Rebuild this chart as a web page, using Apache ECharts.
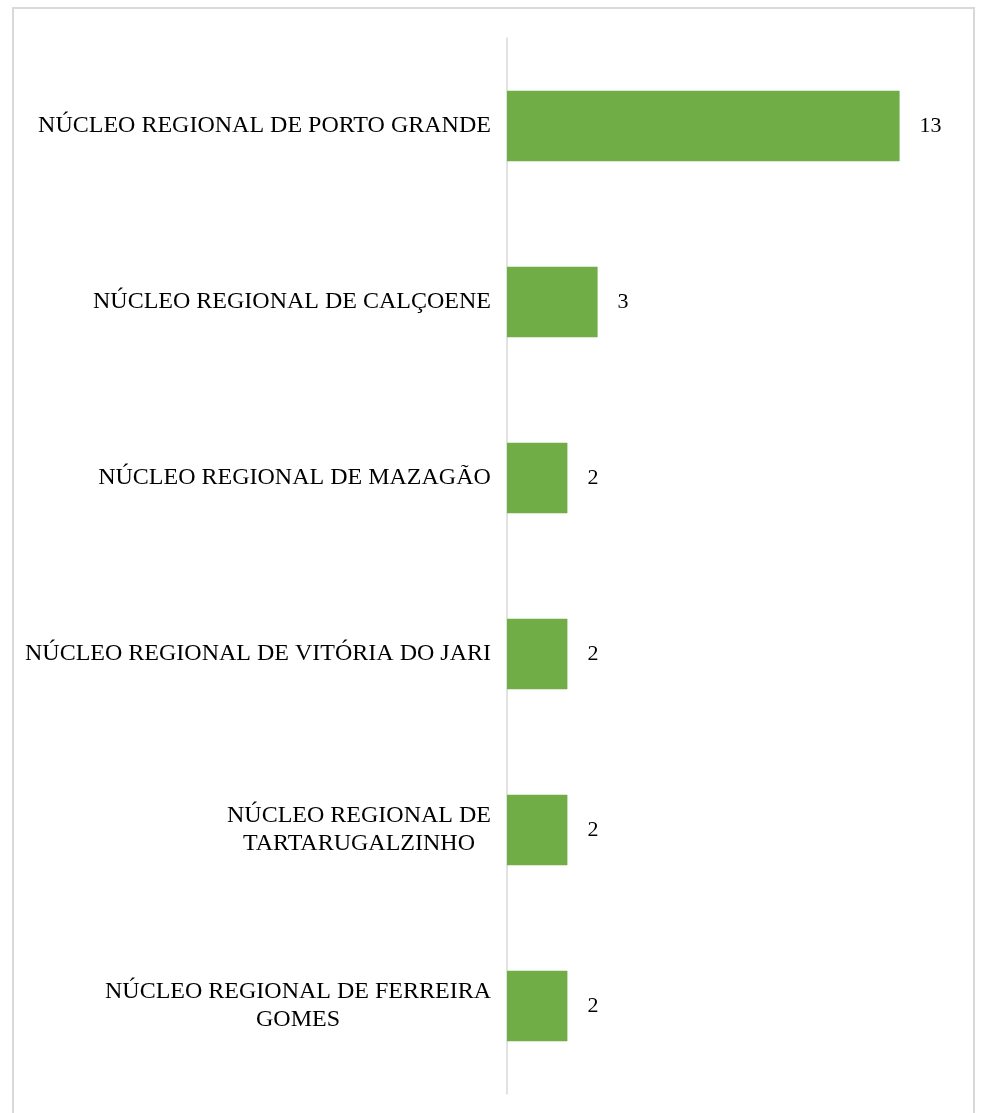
<!DOCTYPE html>
<html>
<head>
<meta charset="utf-8">
<script src="https://cdn.jsdelivr.net/npm/echarts@6/dist/echarts.min.js"></script>
<style>
  html, body { margin: 0; padding: 0; background: #fff; }
  #frame {
    position: absolute; left: 12px; top: 7px; width: 963px; height: 1130px;
    border: 2px solid #d9d9d9; box-sizing: border-box;
  }
  #chart { position: absolute; left: 0; top: 0; width: 981px; height: 1113px; }
</style>
</head>
<body>
<div id="frame"></div>
<div id="chart"></div>
<script>
// categories, top to bottom
const categories = [
  'NÚCLEO REGIONAL DE PORTO GRANDE',
  'NÚCLEO REGIONAL DE CALÇOENE',
  'NÚCLEO REGIONAL DE MAZAGÃO',
  'NÚCLEO REGIONAL DE VITÓRIA DO JARI',
  'NÚCLEO REGIONAL DE\nTARTARUGALZINHO',
  'NÚCLEO REGIONAL DE FERREIRA\nGOMES'
]
const values = [13, 3, 2, 2, 2, 2]

const serif = '"Liberation Serif", "Times New Roman", serif'
const labelSize = 24

// multi-line labels are centred inside their block, so every line gets the block width
const measure = (() => {
  const ctx = document.createElement('canvas').getContext('2d')
  ctx.font = labelSize + 'px ' + serif
  return (s) => ctx.measureText(s).width
})()
const blockWidth = (c) => Math.ceil(Math.max(...c.split('\n').map(measure)))

const chart = echarts.init(document.getElementById('chart'))

const rich = {}
categories.forEach(c => {
  rich['c' + blockWidth(c)] = {
    width: blockWidth(c),
    align: 'center',
    fontFamily: serif,
    fontSize: labelSize,
    lineHeight: 28,
    color: '#000'
  }
})

const options = {
  backgroundColor: 'transparent',
  animation: false,
  grid: {
    left: 507,
    right: 21,
    top: 38,
    bottom: 19
  },
  xAxis: {
    type: 'value',
    min: 0,
    max: 15,
    show: false
  },
  yAxis: {
    type: 'category',
    inverse: true,
    data: categories,
    axisLine: {
      show: true,
      lineStyle: { color: '#d9d9d9', width: 1.5 }
    },
    axisTick: { show: false },
    axisLabel: {
      margin: 16,
      color: '#000',
      fontFamily: serif,
      fontSize: labelSize,
      lineHeight: 28,
      formatter: (val) => {
        const key = 'c' + blockWidth(val)
        return val.split('\n').map(l => '{' + key + '|' + l + '}').join('\n')
      },
      rich: rich
    }
  },
  series: [{
    type: 'bar',
    data: values,
    barCategoryGap: '60%',
    itemStyle: { color: '#70ad47' },
    label: {
      show: true,
      position: 'right',
      distance: 20,
      color: '#000',
      fontFamily: serif,
      fontSize: 22
    }
  }]
}

chart.setOption(options)
</script>
</body>
</html>
